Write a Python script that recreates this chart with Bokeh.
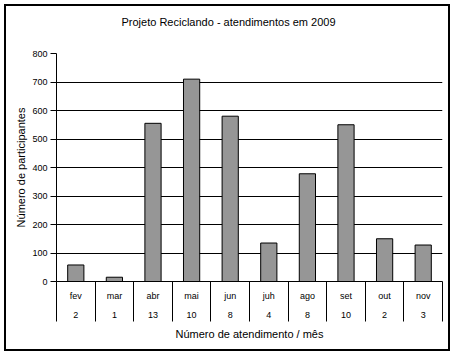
from bokeh.plotting import figure
from bokeh.models import (FactorRange, Range1d, LinearAxis, FixedTicker, ColumnDataSource, Title)
from bokeh.embed import file_html
from bokeh.resources import INLINE

# ---- data ----
months = ["fev", "mar", "abr", "mai", "jun", "juh", "ago", "set", "out", "nov"]
atendimentos = ["2", "1", "13", "10", "8", "4", "8", "10", "2", "3"]
participantes = [58, 15, 555, 710, 580, 135, 378, 550, 150, 128]
y_ticks = [0, 100, 200, 300, 400, 500, 600, 700, 800]
grid_ticks = [100, 200, 300, 400, 500, 600, 700]

title_text = "Projeto Reciclando - atendimentos em 2009"
y_label = "Número de participantes"
x_label = "Número de atendimento / mês"

FONT = "Liberation Sans"

# synthetic coordinates of the factor range: centres and boundaries of categories
centers = [i + 0.5 for i in range(len(months))]
boundaries = [float(i) for i in range(len(months) + 1)]

src = ColumnDataSource(dict(month=months, participantes=participantes))

p = figure(width=454, height=355, title=None,
           x_range=FactorRange(factors=months, range_padding=0),
           y_range=Range1d(0, 800),
           output_backend="svg", toolbar_location=None,
           x_axis_location=None, y_axis_location="left",
           min_border_left=56, min_border_right=12,
           min_border_top=53, min_border_bottom=74,
           background_fill_color=None, border_fill_color=None,
           outline_line_color=None)

p.styles = {"outline": "2px solid black", "outline-offset": "-6px"}

# spacer between plot area and title (blank title line)
spacer = Title(text=" ", standoff=12, text_font=FONT, text_font_size="11px")
p.add_layout(spacer, "above")

# title
main_title = Title(text=title_text, text_font=FONT, text_font_size="11px",
                   text_font_style="normal", text_color="black",
                   align="left", vertical_align="bottom", offset=65, standoff=0)
p.add_layout(main_title, "above")

# bars
p.vbar(x="month", top="participantes", width=0.42, source=src,
       fill_color="#969696", line_color="black", line_width=1)

# y axis
ya = p.yaxis[0]
ya.ticker = FixedTicker(ticks=y_ticks)
ya.major_tick_out = 6
ya.major_tick_in = 0
ya.minor_tick_out = 0
ya.minor_tick_in = 0
ya.axis_line_color = "black"
ya.major_tick_line_color = "black"
ya.major_label_text_font = FONT
ya.major_label_text_font_size = "9px"
ya.major_label_text_color = "black"
ya.major_label_standoff = 3
ya.axis_label = y_label
ya.axis_label_text_font = FONT
ya.axis_label_text_font_size = "11px"
ya.axis_label_text_font_style = "normal"
ya.axis_label_text_color = "black"
ya.axis_label_standoff = 2

# grids
for g in p.grid:
    if g.dimension == 0:
        g.visible = False
p.ygrid.ticker = FixedTicker(ticks=grid_ticks)
p.ygrid.grid_line_color = "black"
p.ygrid.grid_line_width = 1

# x axis: boundaries as long minor ticks, month names at centres
ax_b = LinearAxis(ticker=FixedTicker(ticks=centers, minor_ticks=boundaries),
                  major_tick_out=0, major_tick_in=0,
                  minor_tick_out=40, minor_tick_in=0,
                  minor_tick_line_color="black", minor_tick_line_width=1,
                  axis_line_color="black", axis_line_width=1,
                  major_label_overrides=dict(zip(centers, months)),
                  major_label_standoff=-31,
                  major_label_text_font=FONT,
                  major_label_text_font_size="9px",
                  major_label_text_color="black")
p.add_layout(ax_b, "below")

# counts row + axis title
ax_c = LinearAxis(ticker=FixedTicker(ticks=centers),
                  major_tick_out=0, major_tick_in=0,
                  minor_tick_out=0, minor_tick_in=0,
                  axis_line_color=None,
                  major_label_overrides=dict(zip(centers, atendimentos)),
                  major_label_standoff=8,
                  major_label_text_font=FONT,
                  major_label_text_font_size="9px",
                  major_label_text_color="black",
                  axis_label=x_label,
                  axis_label_text_font=FONT,
                  axis_label_text_font_size="11px",
                  axis_label_text_font_style="normal",
                  axis_label_text_color="black",
                  axis_label_standoff=7)
p.add_layout(ax_c, "below")

open("out.html", "w").write(file_html(p, INLINE))
